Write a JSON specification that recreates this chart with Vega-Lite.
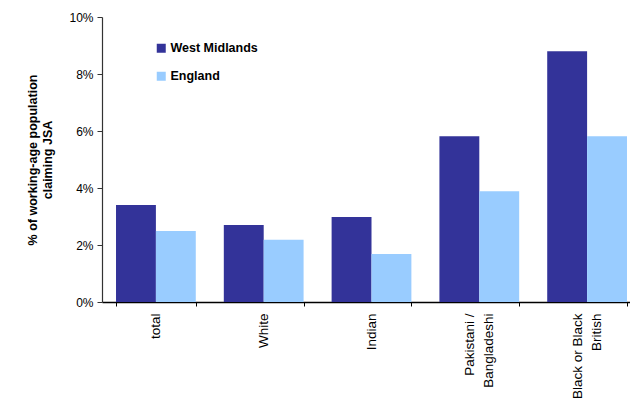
{
  "$schema": "https://vega.github.io/schema/vega-lite/v6.json",
  "autosize": "none",
  "padding": {"left": 102, "top": 17, "right": 0, "bottom": 105},
  "width": 528,
  "height": 285,
  "background": "white",
  "data": {
    "values": [
      {"group": "total", "region": "West Midlands", "rate": 3.4},
      {"group": "total", "region": "England", "rate": 2.49},
      {"group": "White", "region": "West Midlands", "rate": 2.7},
      {"group": "White", "region": "England", "rate": 2.18},
      {"group": "Indian", "region": "West Midlands", "rate": 2.98},
      {"group": "Indian", "region": "England", "rate": 1.68},
      {"group": "Pakistani / Bangladeshi", "region": "West Midlands", "rate": 5.82},
      {"group": "Pakistani / Bangladeshi", "region": "England", "rate": 3.89},
      {"group": "Black or Black British", "region": "West Midlands", "rate": 8.8},
      {"group": "Black or Black British", "region": "England", "rate": 5.82}
    ]
  },
  "mark": {"type": "bar"},
  "encoding": {
    "x": {
      "field": "group",
      "type": "nominal",
      "sort": ["total", "White", "Indian", "Pakistani / Bangladeshi", "Black or Black British"],
      "scale": {"paddingInner": 0.26, "paddingOuter": 0.13, "range": [0, 539]},
      "axis": {
        "title": null,
        "labelAngle": -90,
        "labelAlign": "right",
        "labelBaseline": "middle",
        "labelFont": "Liberation Sans",
        "labelFontSize": 13.5,
        "labelColor": "black",
        "labelPadding": 7,
        "labelOffset": {"condition": {"test": "datum.value == 'Pakistani / Bangladeshi' || datum.value == 'Black or Black British'", "value": -10}, "value": 0},
        "labelLineHeight": 19,
        "labelExpr": "datum.label == 'Pakistani / Bangladeshi' ? ['Pakistani /', 'Bangladeshi'] : datum.label == 'Black or Black British' ? ['Black or Black', 'British'] : datum.label",
        "tickBand": "extent",
        "tickSize": 4,
        "tickColor": "black",
        "domainColor": "black",
        "domainWidth": 1.5,
        "grid": false
      }
    },
    "xOffset": {
      "field": "region",
      "type": "nominal",
      "sort": ["West Midlands", "England"],
      "scale": {"paddingInner": 0, "paddingOuter": 0}
    },
    "y": {
      "field": "rate",
      "type": "quantitative",
      "scale": {"domain": [0, 10], "nice": false},
      "axis": {
        "title": ["% of working-age population", "claiming JSA"],
        "titleFont": "Liberation Sans",
        "titleFontSize": 12.5,
        "titleFontWeight": "bold",
        "titleColor": "black",
        "titleLineHeight": 15,
        "titlePadding": 14,
        "values": [0, 2, 4, 6, 8, 10],
        "labelExpr": "datum.value + '%'",
        "labelFont": "Liberation Sans",
        "labelFontSize": 12,
        "labelColor": "black",
        "labelPadding": 4,
        "tickSize": 5,
        "tickColor": "#333",
        "domainColor": "#333",
        "domainWidth": 1.2,
        "grid": false
      }
    },
    "color": {
      "field": "region",
      "type": "nominal",
      "sort": ["West Midlands", "England"],
      "scale": {"domain": ["West Midlands", "England"], "range": ["#333399", "#99CCFF"]},
      "legend": {
        "title": null,
        "orient": "none",
        "legendX": 53,
        "legendY": 25,
        "symbolType": "square",
        "symbolSize": 81,
        "symbolStrokeWidth": 0,
        "labelFont": "Liberation Sans",
        "labelFontSize": 12.5,
        "labelFontWeight": "bold",
        "labelColor": "black",
        "labelOffset": 3,
        "rowPadding": 15
      }
    }
  },
  "config": {"view": {"stroke": null}}
}
